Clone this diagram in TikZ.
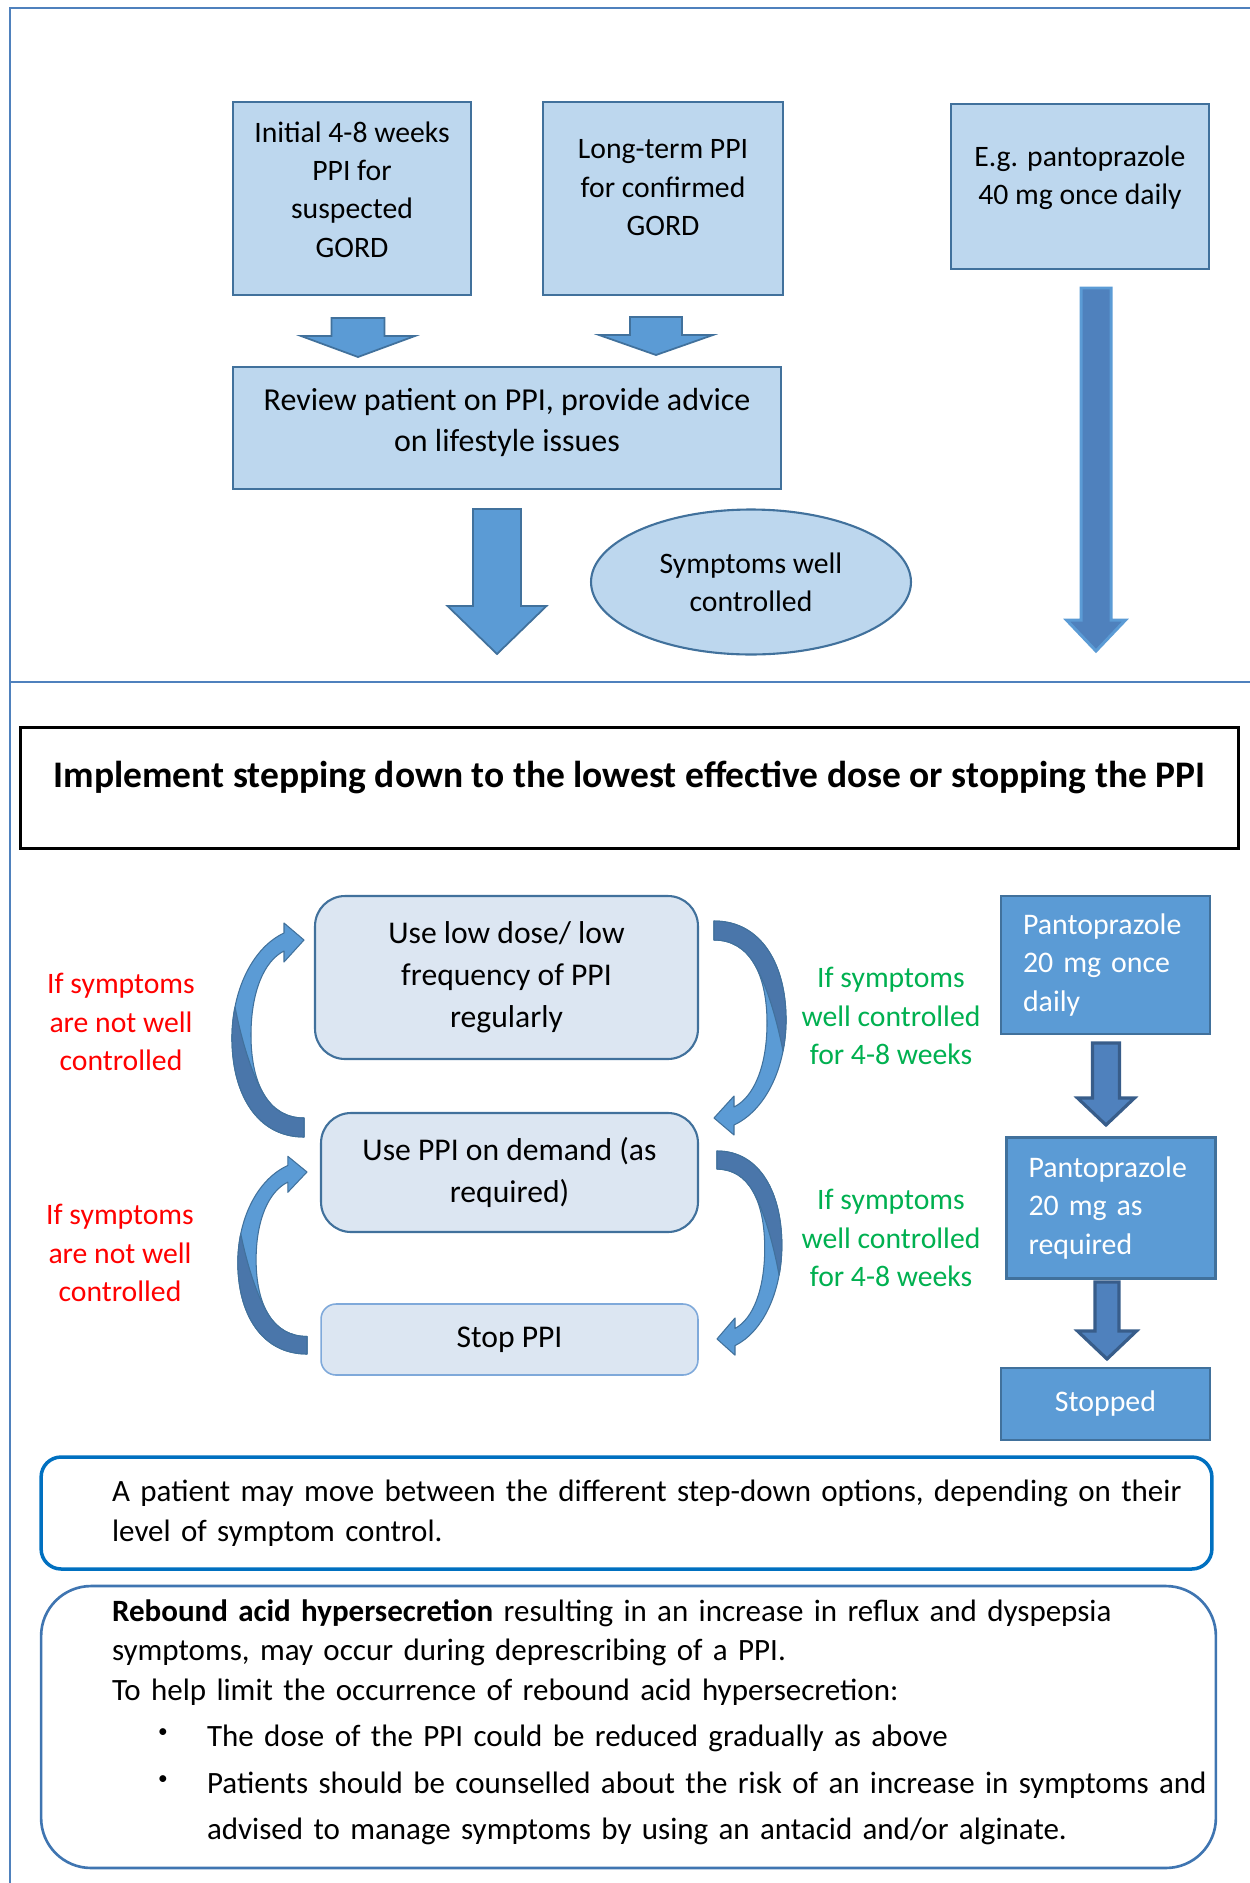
\documentclass[tikz,border=0pt]{standalone}
\usepackage{fontspec}
\setmainfont{Carlito}
\usetikzlibrary{positioning,shapes.geometric}

\definecolor{framecol}{HTML}{4F81BD}
\definecolor{boxfill}{HTML}{BDD7EE}
\definecolor{boxline}{HTML}{41719C}
\definecolor{stepfill}{HTML}{DCE6F2}
\definecolor{stopline}{HTML}{7FA9DA}
\definecolor{pantofill}{HTML}{5B9BD5}
\definecolor{darkarrow}{HTML}{4F81BD}
\definecolor{darkline}{HTML}{385D8A}
\definecolor{bendback}{HTML}{4A76AA}
\definecolor{goodgreen}{HTML}{00B050}
\definecolor{notelineA}{HTML}{0070C0}
\definecolor{notelineB}{HTML}{3F75B1}

% block arrow pointing down: x, y top, shaft half width, head half width, y of head, y of tip
\newcommand{\blockdown}[7][blkarrow]{%
  \filldraw[#1] (#2-#4,#3) -- (#2+#4,#3) -- (#2+#4,#6) -- (#2+#5,#6) -- (#2,#7)
    -- (#2-#5,#6) -- (#2-#4,#6) -- cycle;}
\newcommand{\notebullet}{\hspace*{0.92cm}\makebox[0.98cm][l]{\raisebox{5pt}{\fontsize{11}{11}\selectfont\textbullet}}}

\tikzset{
  frameline/.style={draw=framecol, line width=1.1pt},
  topbox/.style={draw=boxline, fill=boxfill, line width=1.2pt, align=center,
    inner sep=0pt, font=\fontsize{16.9}{21.8}\selectfont},
  blkarrow/.style={fill=pantofill, draw=boxline, line width=1pt, line join=miter},
  longarrow/.style={fill=darkarrow, draw=pantofill, line width=1.7pt},
  colarrow/.style={fill=darkarrow, draw=darkline, line width=1.8pt},
  titlebox/.style={draw=black, line width=1.7pt, align=center,
    font=\bfseries\fontsize{21.35}{26}\selectfont},
  stepbox/.style={draw=boxline, fill=stepfill, line width=1.2pt, rounded corners=0.6cm,
    align=center, inner sep=0pt, font=\fontsize{18}{23.9}\selectfont},
  redlabel/.style={text=red, align=center, font=\fontsize{16.9}{21.8}\selectfont},
  greenlabel/.style={text=goodgreen, align=center, font=\fontsize{16.9}{21.8}\selectfont},
  pantobox/.style={fill=pantofill, draw=boxline, line width=1.2pt, text=white,
    minimum width=4.18cm, text width=3.3cm, inner xsep=0.44cm, align=left,
    font=\fontsize{17}{21.8}\selectfont},
  notebox/.style={align=left, inner xsep=1.42cm, font=\fontsize{17.65}{22.5}\selectfont},
  bendfront/.style={fill=pantofill, draw=boxline, line width=0.6pt, line join=round},
  bendrear/.style={fill=bendback, draw=boxline, line width=0.6pt, line join=round},
  pics/bendarrow/.style={code={
    \filldraw[bendfront] (0,0) .. controls (48,0) and (73,45) .. (72,102)
      .. controls (71,150) and (50,190) .. (20,204) -- (20,214) -- (0,197)
      -- (20,175) -- (20,186) .. controls (40,176) and (53,145) .. (53,102)
      .. controls (53,52) and (35,19) .. (0,19) -- cycle;
    \filldraw[bendrear] (0,0) .. controls (48,0) and (73,45) .. (72,102)
      .. controls (71.8,113) and (70.6,122) .. (69,130)
      .. controls (62,95) and (52,62) .. (39.6,41.75)
      .. controls (30.75,27.25) and (17.5,19) .. (0,19) -- cycle;
  }}
}

\begin{document}
\begin{tikzpicture}[x=0.02cm, y=-0.02cm]
\useasboundingbox (0,0) rectangle (1250,1883);

% frame
\draw[frameline] (10,1883) -- (10,8) -- (1250,8);
\draw[frameline] (10,682) -- (1250,682);

% top part
\node[topbox, text depth=0.36cm, minimum width=4.76cm, minimum height=3.86cm] (initial) at (352,198.5) {Initial 4-8 weeks\\PPI for\\suspected\\GORD};
\node[topbox, text depth=0.44cm, minimum width=4.8cm, minimum height=3.86cm] (longterm) at (663,198.5) {Long-term PPI\\for confirmed\\GORD};
\node[topbox, text depth=0.46cm, minimum width=5.16cm, minimum height=3.3cm] (example) at (1080,186.5) {E.g. pantoprazole\\40 mg once daily};
\node[topbox, text depth=0.33cm, font=\fontsize{18.2}{23.2}\selectfont, minimum width=10.96cm, minimum height=2.44cm] (review) at (507,428) {Review patient on PPI, provide advice\\on lifestyle issues};
\node[topbox, ellipse, minimum width=6.4cm, minimum height=2.9cm] (wellctrl) at (751,582) {Symptoms well\\controlled};

\blockdown{358}{318}{26.5}{57}{336}{357}
\blockdown{656}{317}{26}{57}{335}{355}
\blockdown{497}{509}{24}{49.5}{606}{654}
\blockdown[longarrow]{1096}{288}{15}{29.5}{620}{651}

% step down part
\node[titlebox, text depth=0.53cm, minimum width=24.38cm, minimum height=2.42cm] (title) at (629.5,788) {Implement stepping down to the lowest effective dose or stopping the PPI};

\node[stepbox, minimum width=7.66cm, minimum height=3.26cm] (lowdose) at (506.5,977.5) {Use low dose/ low\\frequency of PPI\\regularly};
\node[stepbox, minimum width=7.54cm, minimum height=2.38cm] (ondemand) at (509.5,1172.5) {Use PPI on demand (as\\required)};
\node[stepbox, draw=stopline, line width=0.9pt, rounded corners=0.3cm, minimum width=7.54cm, minimum height=1.42cm] (stopppi) at (509.5,1339.5) {Stop PPI};

\pic at (714,921) {bendarrow};
\pic[xscale=0.9, yscale=0.954] at (717,1151) {bendarrow};
\pic[rotate=180] at (304,1137) {bendarrow};
\pic[rotate=180, xscale=0.96, yscale=0.924] at (307,1354) {bendarrow};

\node[redlabel] (notwell1) at (121,1022) {If symptoms\\are not well\\controlled};
\node[redlabel] (notwell2) at (120,1253) {If symptoms\\are not well\\controlled};
\node[greenlabel] (well1) at (891,1016) {If symptoms\\well controlled\\for 4-8 weeks};
\node[greenlabel] (well2) at (891,1238) {If symptoms\\well controlled\\for 4-8 weeks};

\node[pantobox, minimum height=2.76cm] (panto1) at (1105.5,965) {Pantoprazole\\20 mg once\\daily};
\node[pantobox, minimum height=2.82cm] (panto2) at (1111,1208) {Pantoprazole\\20 mg as\\required};
\node[pantobox, align=center, minimum height=1.44cm] (stopped) at (1105.5,1404) {Stopped};

\blockdown[colarrow]{1106}{1043}{13.5}{28.5}{1098}{1125}
\blockdown[colarrow]{1107}{1282}{12}{29.5}{1331}{1359}

% notes
\node[notebox, draw=notelineA, line width=2pt, rounded corners=0.4cm, text width=20.58cm, minimum height=2.24cm] (movenote) at (626.5,1513) {\mbox{A patient may move between the different step-down options, depending on their}\\level of symptom control.};
\node[notebox, draw=notelineB, line width=1.5pt, rounded corners=1cm, text width=20.66cm, text depth=133pt, minimum height=5.64cm] (reboundnote) at (628.5,1727) {\mbox{\textbf{Rebound acid hypersecretion} resulting in an increase in reflux and dyspepsia}\\
symptoms, may occur during deprescribing of a PPI.\\
To help limit the occurrence of rebound acid hypersecretion:\\[4pt]
\notebullet The dose of the PPI could be reduced gradually as above\\[4pt]
\mbox{\notebullet Patients should be counselled about the risk of an increase in symptoms and}\\[4pt]
\hspace*{1.9cm}advised to manage symptoms by using an antacid and/or alginate.};
\end{tikzpicture}
\end{document}
